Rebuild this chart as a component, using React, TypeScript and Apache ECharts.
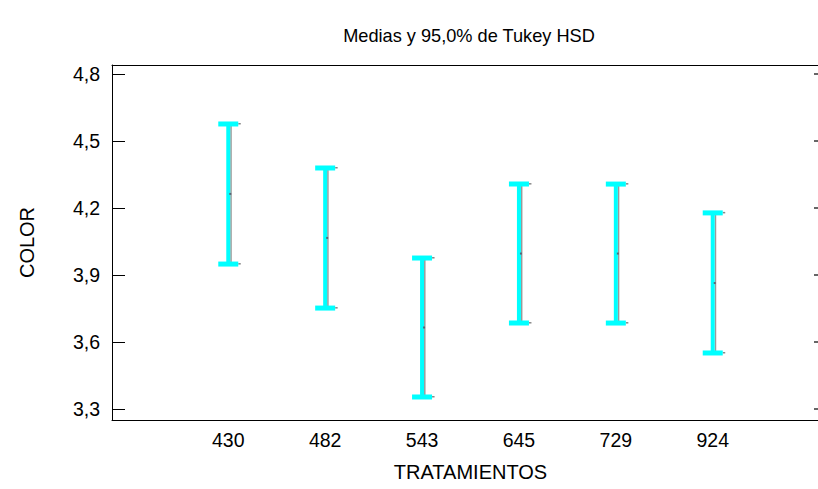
import React, { useEffect, useRef } from "react";
import * as echarts from "echarts";

const categories = ["430", "482", "543", "645", "729", "924"];
const lowerValues = [3.949, 3.752, 3.354, 3.685, 3.685, 3.551];
const upperValues = [4.576, 4.379, 3.976, 4.307, 4.307, 4.178];
const meanValues = [4.263, 4.066, 3.665, 3.996, 3.996, 3.864];
const yTickValues = [3.3, 3.6, 3.9, 4.2, 4.5, 4.8];
const titleText = "Medias y 95,0% de Tukey HSD";
const xAxisName = "TRATAMIENTOS";
const yAxisName = "COLOR";

const FONT = "'Liberation Sans', Arial, sans-serif";

export default function App() {
  const ref = useRef<HTMLDivElement>(null);
  useEffect(() => {
    if (!ref.current) return;
    const chart = echarts.init(ref.current, null, { renderer: "svg" });
    const data = categories.map((_, i) => [i + 1, lowerValues[i], upperValues[i], meanValues[i]]);
    const xPositions = categories.map((_, i) => i + 1);
    const fmtY = (v: number) => v.toFixed(1).replace(".", ",");
    chart.setOption({
      animation: false,
      backgroundColor: "#ffffff",
      title: {
        text: titleText,
        left: 464,
        top: 22,
        textAlign: "center",
        textStyle: { fontFamily: FONT, fontSize: 18.2, fontWeight: "normal", color: "#000" },
      },
      grid: { left: 112, top: 65, bottom: 69, right: 11, containLabel: false },
      xAxis: [
        {
          type: "value",
          min: -0.2,
          max: 7.2,
          position: "bottom",
          name: xAxisName,
          nameLocation: "middle",
          nameGap: 42,
          nameTextStyle: { fontFamily: FONT, fontSize: 20, color: "#000" },
          axisLine: { show: true, onZero: false, lineStyle: { color: "#000", width: 1 } },
          axisTick: { show: false },
          splitLine: { show: false },
          axisLabel: {
            customValues: xPositions,
            formatter: (v: number) => categories[Math.round(v) - 1] ?? "",
            fontFamily: FONT,
            fontSize: 19.5,
            color: "#000",
            margin: 10,
          },
        },
        {
          type: "value",
          min: -0.2,
          max: 7.2,
          position: "top",
          axisLine: { show: true, onZero: false, lineStyle: { color: "#000", width: 1 } },
          axisTick: { show: false },
          axisLabel: { show: false },
          splitLine: { show: false },
        },
      ],
      yAxis: [
        {
          type: "value",
          min: 3.251,
          max: 4.84,
          position: "left",
          name: yAxisName,
          nameLocation: "middle",
          nameGap: 75,
          nameRotate: 90,
          nameTextStyle: { fontFamily: FONT, fontSize: 20, color: "#000" },
          axisLine: { show: true, onZero: false, lineStyle: { color: "#000", width: 1 } },
          axisTick: {
            show: true,
            inside: true,
            length: 13,
            customValues: yTickValues,
            lineStyle: { color: "#000", width: 1 },
          },
          axisLabel: {
            customValues: yTickValues,
            formatter: (v: number) => fmtY(v),
            fontFamily: FONT,
            fontSize: 19.5,
            color: "#000",
            margin: 12,
          },
          splitLine: { show: false },
        },
        {
          type: "value",
          min: 3.251,
          max: 4.84,
          position: "right",
          axisLine: { show: true, onZero: false, lineStyle: { color: "#000", width: 1 } },
          axisTick: {
            show: true,
            inside: true,
            length: 15,
            customValues: yTickValues,
            lineStyle: { color: "#333", width: 1.5 },
          },
          axisLabel: { show: false },
          splitLine: { show: false },
        },
      ],
      series: [
        {
          type: "custom",
          xAxisIndex: 0,
          yAxisIndex: 0,
          data,
          renderItem: (params: any, api: any) => {
            const x = api.value(0);
            const top = api.coord([x, api.value(2)]);
            const bot = api.coord([x, api.value(1)]);
            const mid = api.coord([x, api.value(3)]);
            const cx = top[0];
            const capHalf = 10;
            const capH = 5;
            return {
              type: "group",
              children: [
                {
                  type: "rect",
                  shape: { x: cx + 2, y: top[1], width: 1.5, height: bot[1] - top[1] },
                  style: { fill: "#999999" },
                },
                {
                  type: "rect",
                  shape: { x: cx + capHalf, y: top[1] - 1, width: 2.5, height: 1.5 },
                  style: { fill: "#888888" },
                },
                {
                  type: "rect",
                  shape: { x: cx + capHalf, y: bot[1] - 1, width: 2.5, height: 1.5 },
                  style: { fill: "#888888" },
                },
                {
                  type: "rect",
                  shape: { x: cx - 2, y: top[1], width: 4, height: bot[1] - top[1] },
                  style: { fill: "#00ffff" },
                },
                {
                  type: "rect",
                  shape: { x: cx - capHalf, y: top[1] - capH / 2, width: capHalf * 2, height: capH },
                  style: { fill: "#00ffff" },
                },
                {
                  type: "rect",
                  shape: { x: cx - capHalf, y: bot[1] - capH / 2, width: capHalf * 2, height: capH },
                  style: { fill: "#00ffff" },
                },
                {
                  type: "rect",
                  shape: { x: cx + 1, y: mid[1] - 1, width: 2, height: 2 },
                  style: { fill: "#556677" },
                },
              ],
            };
          },
        },
      ],
    });
    return () => chart.dispose();
  }, []);
  return (
    <div
      style={{
        position: "fixed",
        left: 0,
        top: 0,
        width: 818,
        height: 489,
        overflow: "hidden",
        background: "#fff",
      }}
    >
      <div ref={ref} style={{ width: 840, height: 489 }} />
    </div>
  );
}
